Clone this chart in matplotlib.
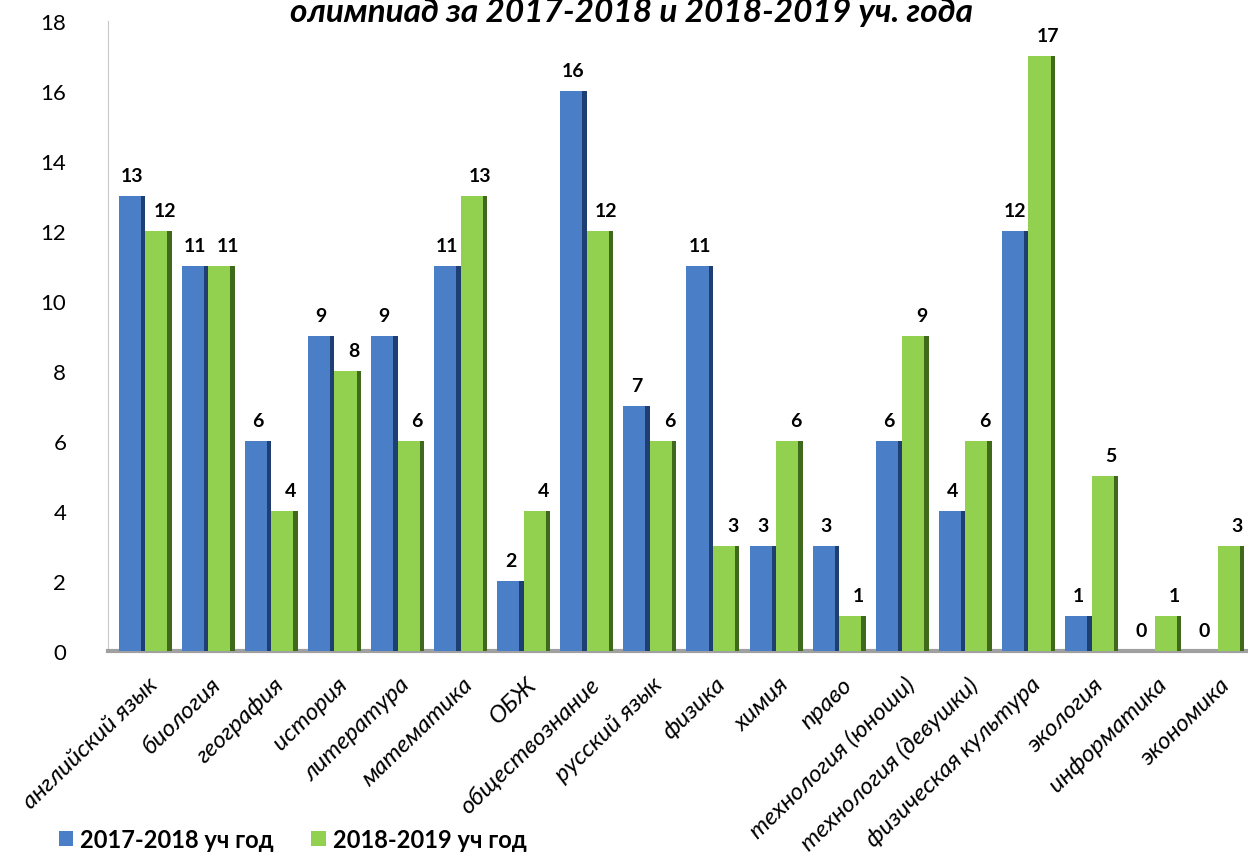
import matplotlib.pyplot as plt
import numpy as np

# Данные
predmety = ['английский язык', 'биология', 'география', 'история', 'литература',
            'математика', 'ОБЖ', 'обществознание', 'русский язык', 'физика',
            'химия', 'право', 'технология (юноши)', 'технология (девушки)',
            'физическая культура', 'экология', 'информатика', 'экономика']
god_2017 = [13, 11, 6, 9, 9, 11, 2, 16, 7, 11, 3, 3, 6, 4, 12, 1, 0, 0]
god_2018 = [12, 11, 4, 8, 6, 13, 4, 12, 6, 3, 6, 1, 9, 6, 17, 5, 1, 3]
serii = ['2017-2018 уч год', '2018-2019 уч год']

plt.rcParams['font.family'] = ['Lato', 'DejaVu Sans']

fig = plt.figure(figsize=(12.48, 8.54), dpi=100)
ax = fig.add_axes([0.0865, 0.2365, 0.9135, 0.7375])

x = np.arange(len(predmety))
w = 0.42
sdvig = 0.07  # тень справа

b1 = ax.bar(x - w/2, god_2017, w, color='#4a7fc8', edgecolor='none', zorder=3)
ax.bar(x - sdvig/2, god_2017, sdvig, color='#1f3f73', edgecolor='none', zorder=4)
b2 = ax.bar(x + w/2, god_2018, w, color='#92d050', edgecolor='none', zorder=3)
ax.bar(x + w - sdvig/2, god_2018, sdvig, color='#3f6a1c', edgecolor='none', zorder=4)

for i in range(len(predmety)):
    ax.text(x[i] - w/2, god_2017[i] + 0.35, str(god_2017[i]), ha='center', va='bottom',
            fontsize=14, fontweight='bold')
    ax.text(x[i] + w/2 + 0.1, god_2018[i] + 0.35, str(god_2018[i]), ha='center', va='bottom',
            fontsize=14, fontweight='bold')

ax.set_xlim(-0.59, 17.48)
ax.set_ylim(0, 18)
ax.set_yticks(range(0, 19, 2))
ax.tick_params(axis='y', length=0, labelsize=16, pad=30)
ax.tick_params(axis='x', length=0, pad=16)
ax.set_xticks(x + 0.03)
ax.set_xticklabels(predmety, rotation=44, ha='right', rotation_mode='anchor',
                   fontsize=17.5, fontstyle='italic')

for s in ['top', 'right']:
    ax.spines[s].set_visible(False)
ax.spines['left'].set_color('#c8c8c8')
ax.spines['bottom'].set_color('#a0a0a0')
ax.spines['bottom'].set_linewidth(3)

fig.text(0.506, 0.985, 'олимпиад за 2017-2018 и 2018-2019 уч. года', ha='center', va='center',
         fontsize=24, fontweight='bold', fontstyle='italic')

fig.legend([b1, b2], serii, loc='lower left', bbox_to_anchor=(0.03, -0.022), ncol=2,
           frameon=False, prop={'size': 17, 'weight': 'bold'}, handlelength=0.6,
           handleheight=0.6, columnspacing=1.6, handletextpad=0.3)

fig.savefig('out.png', dpi=100)
